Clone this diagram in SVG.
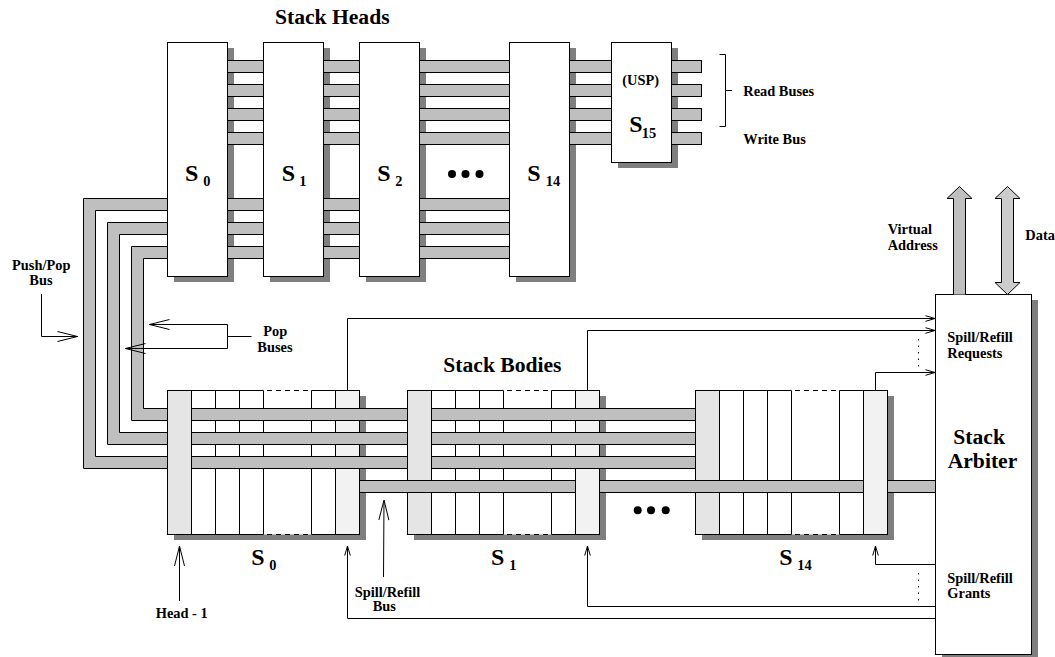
<svg xmlns="http://www.w3.org/2000/svg" xmlns:xlink="http://www.w3.org/1999/xlink" width="1055" height="657" viewBox="0 0 1055 657">
<style>
text{font-family:"Liberation Serif","Times New Roman",serif;font-weight:bold;fill:#000;font-size:14.4px}
.big{font-size:21.6px}
.s{font-size:24px}
.shadow{fill:#7f7f7f;stroke:none}
.box{fill:#fff;stroke:#000;stroke-width:1}
.bus{fill:#bfbfbf;stroke:#000;stroke-width:1}
.ln{fill:none;stroke:#000;stroke-width:1}
.dash{fill:none;stroke:#000;stroke-width:1;stroke-dasharray:5 4}
.dot{fill:none;stroke:#000;stroke-width:1;stroke-dasharray:1.5 5}
</style>
<defs>
<marker id="big" markerUnits="userSpaceOnUse" markerWidth="24" markerHeight="14" refX="20.5" refY="6" orient="auto"><path d="M0.5 1L20.5 6L0.5 11" fill="none" stroke="#000" stroke-width="1"/></marker>
<marker id="small" markerUnits="userSpaceOnUse" markerWidth="12" markerHeight="8" refX="10" refY="4" orient="auto"><path d="M0.5 1.2L10 4L0.5 6.8" fill="none" stroke="#000" stroke-width="1"/></marker>
<g id="body">
<rect class="shadow" x="174" y="396" width="192" height="144"/>
<rect x="167.5" y="390.5" width="192" height="144" fill="#fff"/>
<path class="ln" d="M215.5 390.5V534.5M239.5 390.5V534.5M263.5 390.5V534.5M311.5 390.5V534.5M191.5 390.5H263.5M311.5 390.5H335.5M191.5 534.5H263.5M311.5 534.5H335.5"/>
<path class="dash" d="M267 390.5H308M267 534.5H308"/>
<rect class="box" x="167.5" y="390.5" width="24" height="144" style="fill:#e5e5e5"/>
<rect class="box" x="335.5" y="390.5" width="24" height="144" style="fill:#f2f2f2"/>
</g>
<g id="rowTop">
<rect class="bus" x="227.5" y="60.5" width="36" height="12"/>
<rect class="bus" x="323.5" y="60.5" width="36" height="12"/>
<rect class="bus" x="419.5" y="60.5" width="90" height="12"/>
<rect class="bus" x="569.5" y="60.5" width="42" height="12"/>
<rect class="bus" x="671.5" y="60.5" width="30" height="12"/>
</g>
<g id="rowLow">
<rect class="bus" x="227.5" y="198.5" width="36" height="12"/>
<rect class="bus" x="323.5" y="198.5" width="36" height="12"/>
<rect class="bus" x="419.5" y="198.5" width="90" height="12"/>
</g>
<g id="rowBody">
<rect class="bus" x="191.5" y="408.5" width="216" height="12"/>
<rect class="bus" x="431.5" y="408.5" width="264" height="12"/>
</g>
</defs>

<g id="head-s0">
<rect class="shadow" x="174" y="48" width="60" height="234"/>
<rect class="box" x="167.5" y="42.5" width="60" height="234"/>
<text class="s" x="185" y="181">S</text><text x="203.3" y="185.5">0</text>
</g>
<g id="head-s1">
<rect class="shadow" x="270" y="48" width="60" height="234"/>
<rect class="box" x="263.5" y="42.5" width="60" height="234"/>
<text class="s" x="281.7" y="181">S</text><text x="299.3" y="185.5">1</text>
</g>
<g id="head-s2">
<rect class="shadow" x="366" y="48" width="60" height="234"/>
<rect class="box" x="359.5" y="42.5" width="60" height="234"/>
<text class="s" x="377.3" y="181">S</text><text x="395.3" y="185.5">2</text>
</g>
<g id="head-s14">
<rect class="shadow" x="516" y="48" width="60" height="234"/>
<rect class="box" x="509.5" y="42.5" width="60" height="234"/>
<text class="s" x="527.3" y="181">S</text><text x="545.7" y="185.5">14</text>
</g>
<g id="head-s15">
<rect class="shadow" x="618" y="48" width="60" height="120"/>
<rect class="box" x="611.5" y="42.5" width="60" height="120"/>
<text x="622.3" y="84.7">(USP)</text>
<text class="s" x="629.3" y="132">S</text><text x="641.7" y="137.7">15</text>
</g>
<g id="body-s0"><use href="#body" xlink:href="#body"/><text class="s" x="251.3" y="565">S</text><text x="269.3" y="569.5">0</text></g>
<g id="body-s1"><use href="#body" xlink:href="#body" x="240"/><text class="s" x="491" y="565">S</text><text x="509.3" y="569.5">1</text></g>
<g id="body-s14"><use href="#body" xlink:href="#body" x="528"/><text class="s" x="779.3" y="565">S</text><text x="797.3" y="569.5">14</text></g>
<g id="arbiter">
<rect class="shadow" x="942" y="300" width="96" height="360"/>
<rect class="box" x="935.5" y="294.5" width="96" height="360"/>
<text x="947.3" y="342.3">Spill/Refill</text><text x="947.3" y="358.3">Requests</text>
<text class="big" x="953.3" y="444.3">Stack</text><text class="big" x="947.7" y="467.7">Arbiter</text>
<text x="947.3" y="582.7">Spill/Refill</text><text x="947.3" y="598">Grants</text>
</g>

<g id="connectors">
<use href="#rowTop" xlink:href="#rowTop"/>
<use href="#rowTop" xlink:href="#rowTop" y="24"/>
<use href="#rowTop" xlink:href="#rowTop" y="48"/>
<use href="#rowTop" xlink:href="#rowTop" y="72"/>
<use href="#rowLow" xlink:href="#rowLow"/>
<use href="#rowLow" xlink:href="#rowLow" y="24"/>
<use href="#rowLow" xlink:href="#rowLow" y="48"/>
<path class="bus" d="M167.5 198.5H83.5V468.5H167.5V456.5H95.5V210.5H167.5Z"/>
<path class="bus" d="M167.5 222.5H107.5V444.5H167.5V432.5H119.5V234.5H167.5Z"/>
<path class="bus" d="M167.5 246.5H131.5V420.5H167.5V408.5H143.5V258.5H167.5Z"/>
<use href="#rowBody" xlink:href="#rowBody"/>
<use href="#rowBody" xlink:href="#rowBody" y="24"/>
<use href="#rowBody" xlink:href="#rowBody" y="48"/>
<rect class="bus" x="359.5" y="480.5" width="216" height="12"/>
<rect class="bus" x="599.5" y="480.5" width="264" height="12"/>
<rect class="bus" x="887.5" y="480.5" width="48" height="12"/>

<path d="M953.5 294.5V198.5H947L959.5 186.5L972 198.5H965.5V294.5" fill="#bfbfbf" stroke="#000"/>
<path d="M1001.5 198.5H995L1007.5 186.5L1020 198.5H1013.5V282.5H1020L1007.5 294.5L995 282.5H1001.5Z" fill="#ccc" stroke="#000"/>

<path class="ln" d="M347.5 390.5V318.5H935" marker-end="url(#small)"/>
<path class="ln" d="M587.5 390.5V330.5H935" marker-end="url(#small)"/>
<path class="ln" d="M875.5 390.5V372.5H935" marker-end="url(#small)"/>
<path class="dot" d="M918.5 339V369"/>
<path class="ln" d="M935.5 564.5H875.5V546" marker-end="url(#small)"/>
<path class="ln" d="M935.5 606.5H587.5V546" marker-end="url(#small)"/>
<path class="ln" d="M935.5 618.5H347.5V546" marker-end="url(#small)"/>
<path class="dot" d="M918.5 573V603"/>
<path class="ln" d="M719.5 54.5H725.5V126.5H719.5M725.5 90.5H732"/>
<path class="ln" d="M227.5 324.5H149.5" marker-end="url(#big)"/>
<path class="ln" d="M251.5 336.5H227.5M227.5 324.5V348.5H125.5" marker-end="url(#big)"/>
<path class="ln" d="M41.5 294V336.5H77.5" marker-end="url(#big)"/>
<path class="ln" d="M179.5 601V546" marker-end="url(#big)"/>
<path class="ln" d="M383.5 577L384 500" marker-end="url(#big)"/>
<circle cx="452" cy="174" r="4"/><circle cx="465.5" cy="174" r="4"/><circle cx="479.5" cy="174" r="4"/>
<circle cx="637.7" cy="510.3" r="4"/><circle cx="651" cy="510.3" r="4"/><circle cx="665.7" cy="510.3" r="4"/>
</g>

<g id="labels">
<text class="big" x="275" y="24">Stack Heads</text>
<text class="big" x="443.3" y="371.7">Stack Bodies</text>
<text x="743.3" y="96">Read Buses</text>
<text x="743.3" y="144">Write Bus</text>
<text x="12" y="270">Push/Pop</text>
<text x="29.3" y="285.3">Bus</text>
<text x="263.3" y="336">Pop</text>
<text x="257.3" y="351.7">Buses</text>
<text x="155.7" y="618.3">Head - 1</text>
<text x="354.7" y="597.3">Spill/Refill</text>
<text x="372.7" y="611">Bus</text>
<text x="887.7" y="234.3">Virtual</text>
<text x="887.7" y="250">Address</text>
<text x="1025.3" y="240">Data</text>
</g>
</svg>
